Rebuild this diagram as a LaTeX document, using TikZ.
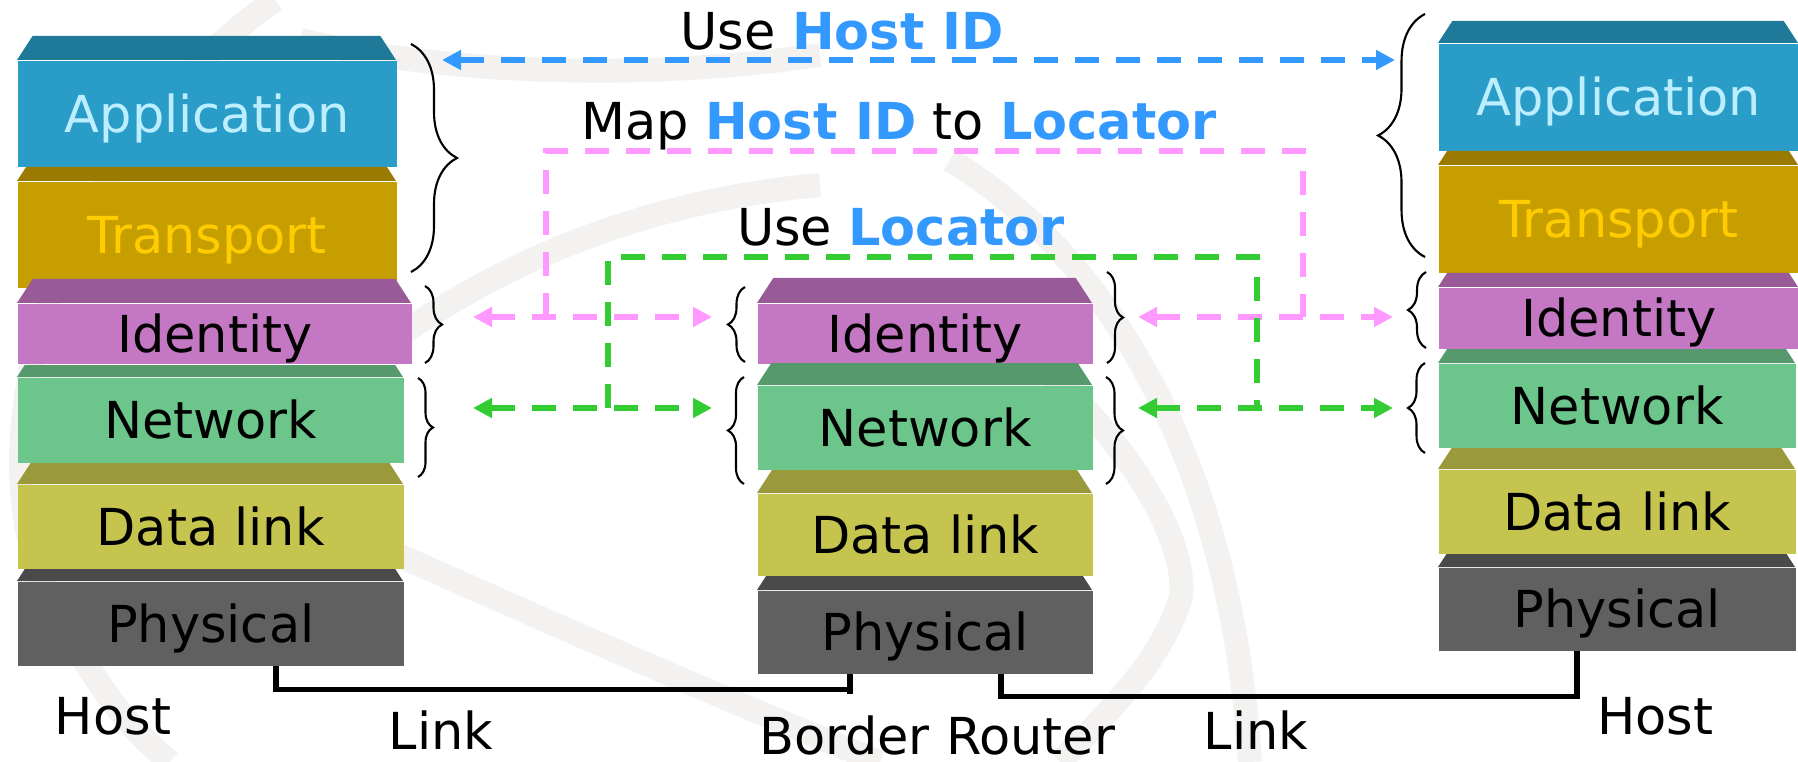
\documentclass[tikz,border=0pt]{standalone}
\usepackage{fontspec}
\setmainfont{DejaVu Sans}
\usetikzlibrary{arrows.meta, decorations.pathreplacing, calc}
\usepackage{xcolor}
\definecolor{appfront}{HTML}{299DC8}
\definecolor{apptop}{HTML}{1F7A99}
\definecolor{apptext}{HTML}{BDEEFF}
\definecolor{trafront}{HTML}{C79E00}
\definecolor{tratop}{HTML}{9A7A00}
\definecolor{tratext}{HTML}{FFCC00}
\definecolor{idefront}{HTML}{C477C3}
\definecolor{idetop}{HTML}{985B98}
\definecolor{netfront}{HTML}{6CC58A}
\definecolor{nettop}{HTML}{56996C}
\definecolor{datfront}{HTML}{C5C44F}
\definecolor{dattop}{HTML}{9A9A3D}
\definecolor{phyfront}{HTML}{606060}
\definecolor{phytop}{HTML}{4A4A4A}
\definecolor{hostid}{HTML}{3399FF}
\definecolor{mapline}{HTML}{FF99FF}
\definecolor{locline}{HTML}{33CC33}
\definecolor{wmgray}{HTML}{F3F2F0}

\newcommand{\labelfont}{\fontsize{14.5}{17}\selectfont}
\newcommand{\hilite}[1]{\textcolor{hostid}{\textbf{#1}}}
% slab: name, kind, x left, x right, y top face, y front, y bottom, text
\newcommand{\slab}[8]{%
  \fill[#2top] (#3,#6) -- ({#3+0.65*(#6-#5)},#5) -- ({#4-0.65*(#6-#5)},#5) -- (#4,#6) -- cycle;
  \node[layer, #2, anchor=north west, minimum width={(#4-#3)*0.1mm}, minimum height={(#7-#6)*0.1mm}] (#1) at (#3,#6) {#8};
}

\begin{document}
\begin{tikzpicture}[
    x=0.1mm, y=-0.1mm,
    layer/.style={inner sep=0pt, text height=10.6pt, text depth=0pt, font=\labelfont},
    lab/.style={inner sep=0pt, text height=10.6pt, text depth=0pt, font=\labelfont},
    app/.style={fill=appfront, text=apptext},
    tra/.style={fill=trafront, text=tratext},
    ide/.style={fill=idefront},
    net/.style={fill=netfront},
    dat/.style={fill=datfront},
    phy/.style={fill=phyfront},
    curly/.style={decorate, decoration={brace, amplitude=#1}, line width=0.6pt},
    dashline/.style={line width=1.5pt, dash pattern=on 0.24cm off 0.17cm},
    bidash/.style={dashline, {Triangle[length=0.19cm,width=0.19cm]}-{Triangle[length=0.19cm,width=0.19cm]}},
    wire/.style={line width=1.6pt},
    wm/.style={wmgray, line width=0.24cm}
  ]
    \useasboundingbox (0,0) rectangle (1798,762);

    % watermark
    \begin{scope}
      \clip (0,0) rectangle (1798,762);
      \draw[wm] (275,0) .. controls (60,150) and (-40,450) .. (60,620) .. controls (100,690) and (130,730) .. (170,762);
      \draw[wm] (300,40) .. controls (450,75) and (650,80) .. (820,55);
      \draw[wm] (380,350) .. controls (500,260) and (650,200) .. (820,185);
      \draw[wm] (330,525) .. controls (500,600) and (700,690) .. (880,762);
      \draw[wm] (1000,330) .. controls (1150,450) and (1190,560) .. (1180,600) .. controls (1160,660) and (1120,700) .. (1060,762);
      \draw[wm] (950,160) .. controls (1100,250) and (1230,450) .. (1250,762);
    \end{scope}

    % host stack
    \slab{lapp}{app}{17}{396}{36}{60}{166}{Application}
    \slab{ltra}{tra}{17}{396}{167}{181}{287}{Transport}
    \slab{lide}{ide}{17}{411}{279}{303}{363}{Identity}
    \slab{lnet}{net}{17}{403}{365}{377}{462}{Network}
    \slab{ldat}{dat}{17}{403}{463}{484}{568}{Data link}
    \slab{lphy}{phy}{17}{403}{569}{581}{665}{Physical}

    % border router stack
    \slab{mide}{ide}{757}{1092}{278}{303}{363}{Identity}
    \slab{mnet}{net}{757}{1092}{363}{385}{469}{Network}
    \slab{mdat}{dat}{757}{1092}{470}{493}{575}{Data link}
    \slab{mphy}{phy}{757}{1092}{576}{590}{673}{Physical}

    % host stack
    \slab{rapp}{app}{1438}{1798}{21}{43}{150}{Application}
    \slab{rtra}{tra}{1438}{1798}{151}{165}{272}{Transport}
    \slab{ride}{ide}{1438}{1798}{273}{287}{348}{Identity}
    \slab{rnet}{net}{1438}{1795}{349}{363}{447}{Network}
    \slab{rdat}{dat}{1438}{1795}{448}{469}{553}{Data link}
    \slab{rphy}{phy}{1438}{1795}{554}{567}{650}{Physical}

    % braces
    \draw[curly=0.46cm] (411,44) -- (411,272);
    \draw[curly=0.17cm] (425,286) -- (425,363);
    \draw[curly=0.15cm] (418,378) -- (418,477);
    \draw[curly=0.17cm] (745,362) -- (745,287);
    \draw[curly=0.16cm] (744,484) -- (744,377);
    \draw[curly=0.16cm] (1107,272) -- (1107,363);
    \draw[curly=0.17cm] (1106,377) -- (1106,484);
    \draw[curly=0.47cm] (1425,257) -- (1425,14);
    \draw[curly=0.18cm] (1426,348) -- (1426,272);
    \draw[curly=0.17cm] (1425,453) -- (1425,363);

    % arrow ends
    \coordinate (hidl) at (442,60);
    \coordinate (hidr) at (1395,60);
    \coordinate (mapl) at (473,317);
    \coordinate (mapml) at (712,317);
    \coordinate (mapmr) at (1138,317);
    \coordinate (mapr) at (1393,317);
    \coordinate (mapj1) at (546,317);
    \coordinate (mapj2) at (1303,317);
    \coordinate (locl) at (473,408);
    \coordinate (locml) at (712,408);
    \coordinate (locmr) at (1138,408);
    \coordinate (locr) at (1393,408);
    \coordinate (locj1) at (608,408);
    \coordinate (locj2) at (1257,408);

    \draw[bidash, hostid] (hidl) -- (hidr);
    \draw[dashline, mapline] (mapj1) |- (1303,151) -- (mapj2);
    \draw[bidash, mapline] (mapl) -- (mapml);
    \draw[bidash, mapline] (mapmr) -- (mapr);
    \draw[dashline, locline] (locj1) |- (1257,257) -- (locj2);
    \draw[bidash, locline] (locl) -- (locml);
    \draw[bidash, locline] (locmr) -- (locr);

    % links
    \draw[wire] ([xshift=0.65cm]lphy.south) |- ([xshift=-0.755cm,yshift=-0.15cm]mphy.south);
    \draw[wire] ([xshift=-0.755cm]mphy.south) -- ([xshift=-0.755cm,yshift=-0.2cm]mphy.south);
    \draw[wire] ([xshift=0.755cm]mphy.south) -- ++(0,-0.22cm) -| ([xshift=-0.405cm]rphy.south);

    % labels
    \node[lab] (usehid) at (842,31) {Use \hilite{Host ID}};
    \node[lab] (maphid) at (899,121) {Map \hilite{Host ID} to \hilite{Locator}};
    \node[lab] (useloc) at (901,227) {Use \hilite{Locator}};
    \node[lab] (lhost) at (113,716) {Host};
    \node[lab] (llink) at (441,731) {Link};
    \node[lab] (border) at (937,736) {Border Router};
    \node[lab] (rlink) at (1256,731) {Link};
    \node[lab] (rhost) at (1655,716) {Host};
  \end{tikzpicture}
\end{document}
